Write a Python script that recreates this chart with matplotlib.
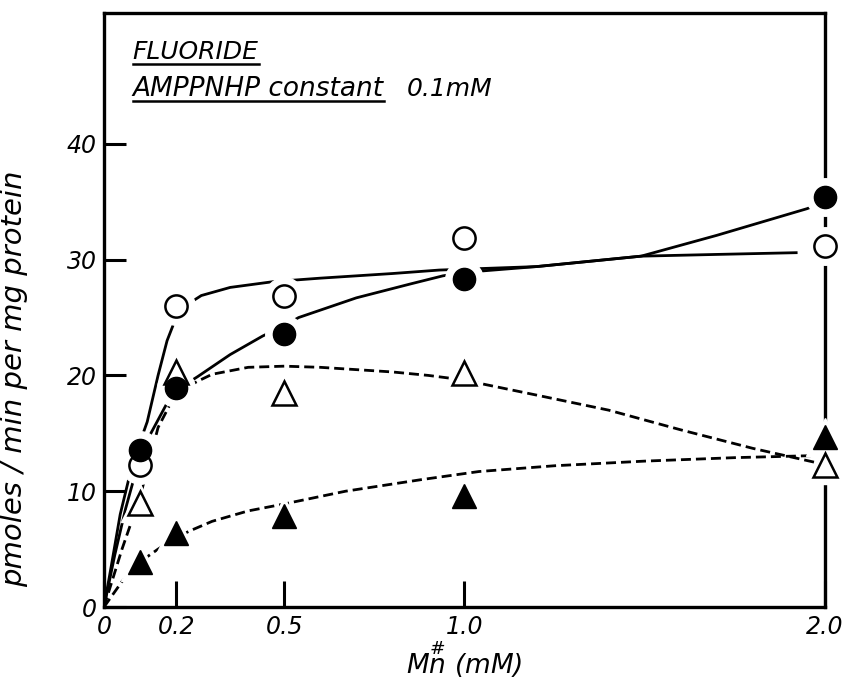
import numpy as np
import matplotlib.pyplot as plt
from matplotlib.lines import Line2D

plt.rcParams['font.family'] = 'DejaVu Sans'
plt.rcParams['font.style'] = 'italic'

# Mn concentration (mM)
mn = [0.1, 0.2, 0.5, 1.0, 2.0]

# activity, pmoles/min per mg protein
open_circ = [12.3, 26.0, 26.9, 31.9, 31.2]
filled_circ = [13.6, 18.9, 23.6, 28.3, 35.4]
open_tri = [9.0, 20.3, 18.45, 20.2, 12.3]
filled_tri = [3.9, 6.4, 7.9, 9.6, 14.7]

# hand-drawn fitted curves
fit_oc_x = [0, 0.02, 0.045, 0.08, 0.12, 0.15, 0.175, 0.2, 0.23, 0.27, 0.35, 0.47, 0.6, 0.8, 0.93, 1.2, 1.49, 1.7, 1.92]
fit_oc_y = [0, 3.5, 8.0, 12.5, 16.0, 20.0, 23.0, 25.0, 26.1, 26.9, 27.6, 28.1, 28.4, 28.8, 29.1, 29.4, 30.3, 30.45, 30.6]

fit_fc_x = [0, 0.03, 0.06, 0.1, 0.13, 0.18, 0.22, 0.26, 0.35, 0.44, 0.5, 0.54, 0.7, 0.85, 0.94, 1.0, 1.2, 1.49, 1.7, 1.95, 2.0]
fit_fc_y = [0, 4.5, 8.5, 13.0, 15.0, 17.9, 19.1, 19.9, 21.8, 23.4, 24.3, 25.0, 26.7, 27.9, 28.6, 28.9, 29.4, 30.3, 32.1, 34.4, 35.0]

fit_ot_x = [0, 0.05, 0.1, 0.15, 0.2, 0.26, 0.3, 0.4, 0.5, 0.6, 0.8, 0.9, 1.0, 1.06, 1.2, 1.4, 1.6, 1.8, 1.9, 2.0]
fit_ot_y = [0, 5.0, 9.5, 15.5, 18.5, 19.5, 20.1, 20.7, 20.8, 20.7, 20.3, 20.0, 19.6, 19.2, 18.3, 17.0, 15.3, 13.7, 13.0, 12.3]

fit_ft_x = [0, 0.05, 0.1, 0.15, 0.2, 0.24, 0.3, 0.4, 0.5, 0.67, 0.88, 1.04, 1.25, 1.5, 1.75, 2.0]
fit_ft_y = [0, 2.2, 3.9, 5.0, 6.0, 6.6, 7.4, 8.3, 8.9, 10.0, 11.0, 11.7, 12.2, 12.6, 12.9, 13.1]

xticks = [0, 0.2, 0.5, 1.0, 2.0]
xticklabels = ['0', '0.2', '0.5', '1.0', '2.0']
yticks = [0, 10, 20, 30, 40]
yticklabels = ['0', '10', '20', '30', '40']

fig = plt.figure(figsize=(8.44, 6.95), dpi=100)
ax = fig.add_axes([0.1232, 0.1266, 0.8543, 0.8547])

lw = 2.0
ax.plot(fit_oc_x, fit_oc_y, color='k', lw=lw, zorder=2)
ax.plot(fit_fc_x, fit_fc_y, color='k', lw=lw, zorder=2)
ax.plot(fit_ot_x, fit_ot_y, color='k', lw=lw, dashes=(3.6, 1.8), zorder=2)
ax.plot(fit_ft_x, fit_ft_y, color='k', lw=lw, dashes=(3.6, 1.8), zorder=2)

ms = 16
halo = 11
# white halos leave the pen gaps around every symbol
for ys, mk in [(open_circ, 'o'), (filled_circ, 'o'), (open_tri, '^'), (filled_tri, '^')]:
    ax.plot(mn, ys, ls='none', marker=mk, ms=ms + halo, mfc='white', mec='white',
            zorder=3, clip_on=False)

ax.plot(mn, open_tri, ls='none', marker='^', ms=ms + 1, mfc='white', mec='k', mew=1.8,
        zorder=4, clip_on=False)
ax.plot(mn, open_circ, ls='none', marker='o', ms=ms, mfc='white', mec='k', mew=1.8,
        zorder=4, clip_on=False)
ax.plot(mn, filled_tri, ls='none', marker='^', ms=ms + 1, mfc='k', mec='k', mew=1.0,
        zorder=5, clip_on=False)
ax.plot(mn, filled_circ, ls='none', marker='o', ms=ms, mfc='k', mec='k', mew=1.0,
        zorder=5, clip_on=False)

ax.set_xlim(0, 2.0)
ax.set_ylim(0, 51.3)
ax.set_xticks(xticks)
ax.set_xticklabels(xticklabels)
ax.set_yticks(yticks)
ax.set_yticklabels(yticklabels)
ax.tick_params(axis='both', direction='in', width=2.2, labelsize=17, colors='k')
ax.tick_params(axis='x', length=19, pad=6)
ax.tick_params(axis='y', length=16, pad=5)
for sp in ax.spines.values():
    sp.set_linewidth(2.4)

ax.set_ylabel('pmoles / min per mg protein', fontsize=21)
ax.yaxis.set_label_coords(-0.105, 0.385)
ax.set_xlabel(r'$M\overset{\#}{n}\ (mM)$', fontsize=19)
ax.xaxis.set_label_coords(0.5, -0.052)

t1 = ax.text(0.040, 0.9226, 'FLUORIDE', transform=ax.transAxes, fontsize=18, va='baseline')
t2 = ax.text(0.040, 0.860, 'AMPPNHP constant', transform=ax.transAxes, fontsize=19, va='baseline')
ax.text(0.420, 0.860, '0.1mM', transform=ax.transAxes, fontsize=18, va='baseline')

# underline the two header lines
fig.canvas.draw()
r = fig.canvas.get_renderer()
W, H = fig.bbox.width, fig.bbox.height
for t in (t1, t2):
    bb = t.get_window_extent(renderer=r)
    base = ax.transAxes.transform(t.get_position())[1]
    yl = (base - 5) / H
    fig.add_artist(Line2D([bb.x0 / W, bb.x1 / W], [yl, yl], color='k', lw=1.8))

fig.savefig('out.png', dpi=100)
